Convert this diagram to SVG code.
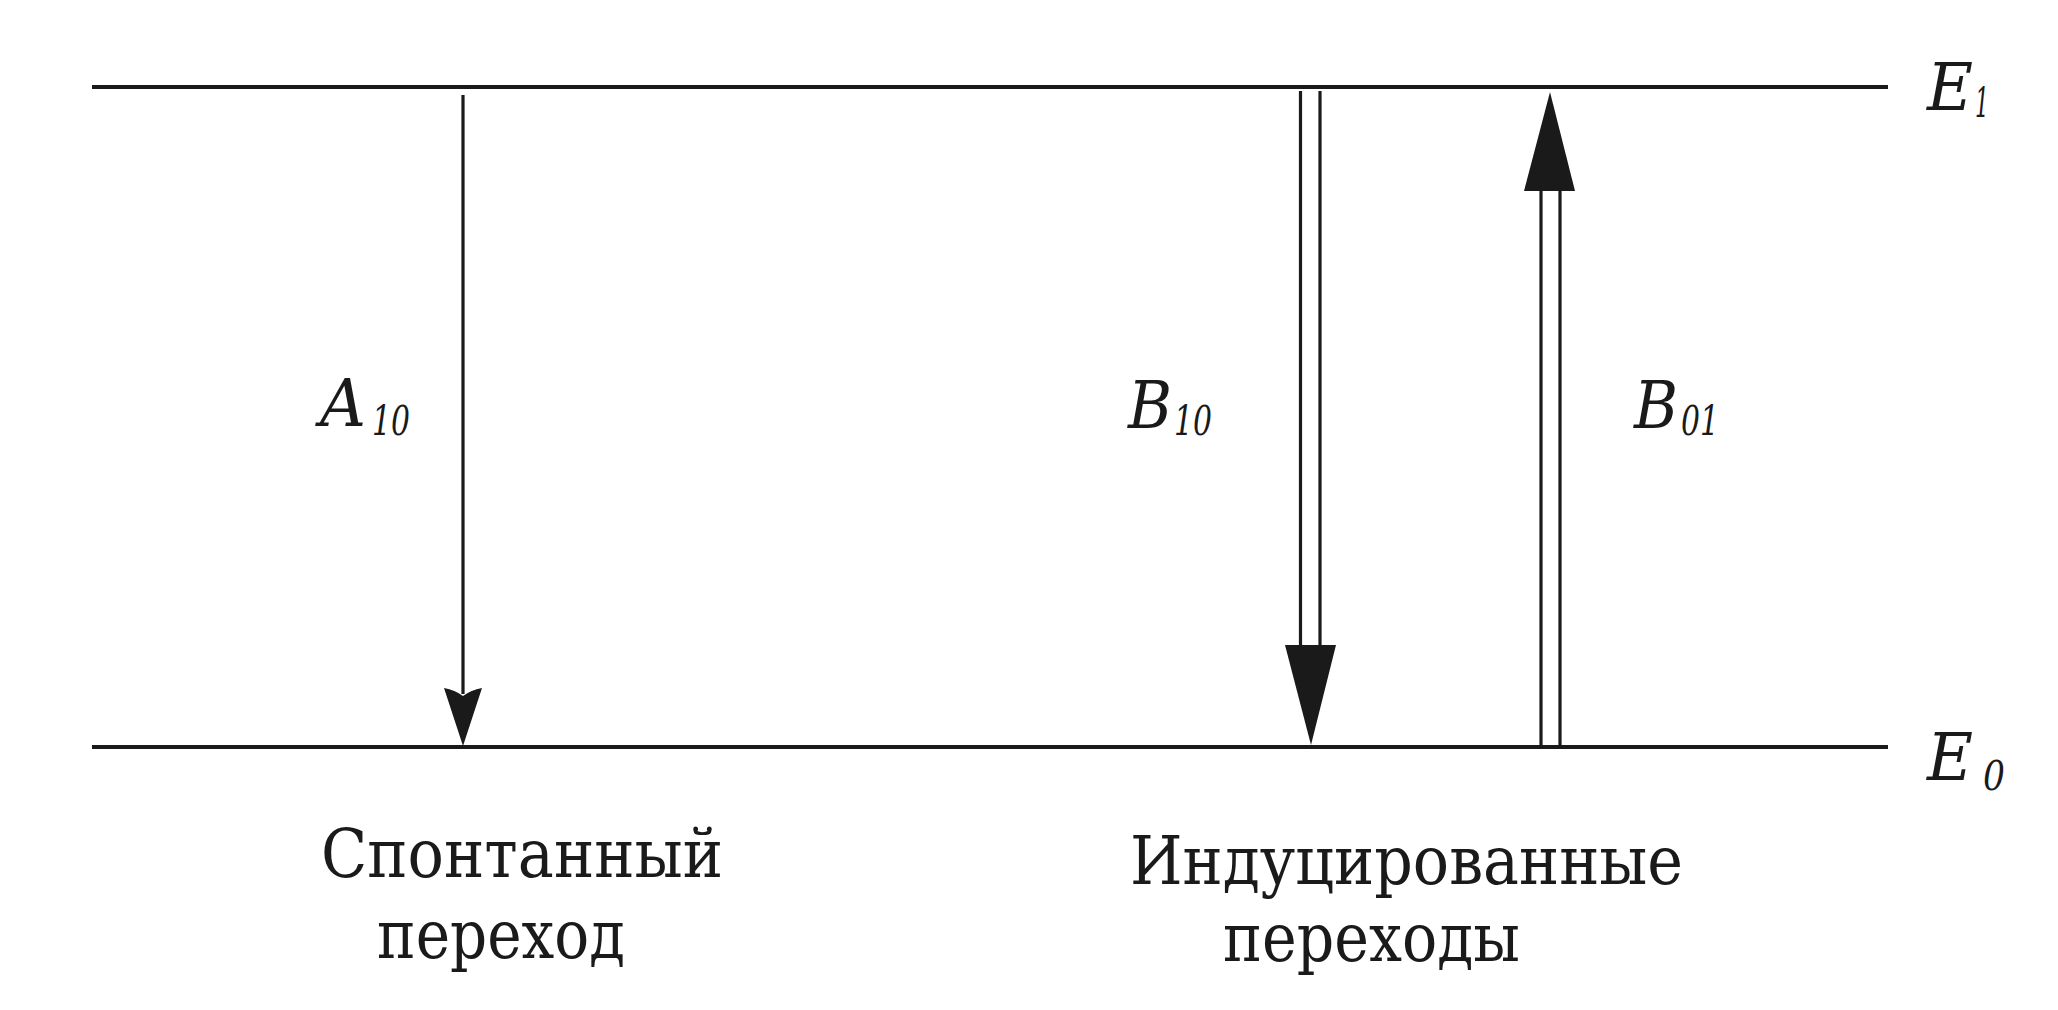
<svg xmlns="http://www.w3.org/2000/svg" width="2058" height="1010" viewBox="0 0 2058 1010">
  <style>
    .lvl { stroke: #1a1a1a; stroke-width: 4; fill: none; }
    .shaft { stroke: #1a1a1a; stroke-width: 3.2; fill: none; }
    .head { fill: #1a1a1a; stroke: none; }
    text { font-family: 'DejaVu Serif', 'Liberation Serif', serif; fill: #1a1a1a; }
    .it { font-style: italic; }
    .big { font-size: 66px; }
    .sub { font-size: 41px; }
    .cap { font-size: 68px; }
  </style>
  <rect x="0" y="0" width="2058" height="1010" fill="#ffffff"/>

  <g id="level-E1">
    <line class="lvl" x1="92" y1="87" x2="1888" y2="87"/>
    <text class="it big" x="1927" y="110" textLength="46" lengthAdjust="spacingAndGlyphs">E</text>
    <text class="it sub" x="1975" y="117" textLength="14" lengthAdjust="spacingAndGlyphs">1</text>
  </g>

  <g id="level-E0">
    <line class="lvl" x1="92" y1="747" x2="1888" y2="747"/>
    <text class="it big" x="1927" y="780" textLength="46" lengthAdjust="spacingAndGlyphs">E</text>
    <text class="it sub" x="1983" y="790" textLength="22" lengthAdjust="spacingAndGlyphs">0</text>
  </g>

  <g id="connectors">
    <g id="arrow-A10">
      <line class="shaft" x1="463" y1="95" x2="463" y2="694"/>
      <path class="head" d="M463 746 L444 688 Q455 690 463 696 Q471 690 482 688 Z"/>
    </g>
    <g id="arrow-B10">
      <line class="shaft" x1="1300.5" y1="91" x2="1300.5" y2="646"/>
      <line class="shaft" x1="1320" y1="91" x2="1320" y2="646"/>
      <path class="head" d="M1285 645 L1336 645 L1311 745 Z"/>
    </g>
    <g id="arrow-B01">
      <line class="shaft" x1="1541" y1="190" x2="1541" y2="747"/>
      <line class="shaft" x1="1560" y1="190" x2="1560" y2="747"/>
      <path class="head" d="M1550 92 L1575 191 L1524 191 Z"/>
    </g>
  </g>

  <g id="label-A10">
    <text class="it big" x="320" y="426" textLength="46" lengthAdjust="spacingAndGlyphs">A</text>
    <text class="it sub" x="372" y="435" textLength="38" lengthAdjust="spacingAndGlyphs">10</text>
  </g>
  <g id="label-B10">
    <text class="it big" x="1128" y="428" textLength="44" lengthAdjust="spacingAndGlyphs">B</text>
    <text class="it sub" x="1174" y="435" textLength="38" lengthAdjust="spacingAndGlyphs">10</text>
  </g>
  <g id="label-B01">
    <text class="it big" x="1634" y="428" textLength="44" lengthAdjust="spacingAndGlyphs">B</text>
    <text class="it sub" x="1681" y="435" textLength="38" lengthAdjust="spacingAndGlyphs">01</text>
  </g>

  <g id="caption-spontaneous">
    <text class="cap" x="321" y="877" textLength="402" lengthAdjust="spacingAndGlyphs">Спонтанный</text>
    <text class="cap" x="377" y="958" textLength="248" lengthAdjust="spacingAndGlyphs">переход</text>
  </g>
  <g id="caption-induced">
    <text class="cap" x="1130" y="884" textLength="553" lengthAdjust="spacingAndGlyphs">Индуцированные</text>
    <text class="cap" x="1223" y="961" textLength="297" lengthAdjust="spacingAndGlyphs">переходы</text>
  </g>
</svg>
